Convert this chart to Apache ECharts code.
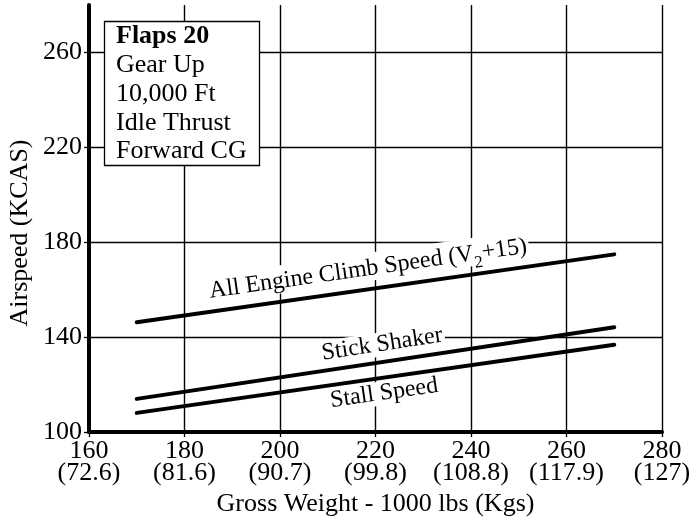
<!DOCTYPE html>
<html>
<head>
<meta charset="utf-8">
<script src="https://cdn.jsdelivr.net/npm/echarts@6/dist/echarts.min.js"></script>
<style>html,body{margin:0;padding:0;background:#fff}#c{width:696px;height:522px}</style>
</head>
<body>
<div id="c"></div>
<script>
// ---- data ----
const weights = [170, 270];
const climbSpeed = [146.3, 174.9];
const stickShaker = [114.0, 144.2];
const stallSpeed = [108.1, 136.8];
const xTickValues = [160, 180, 200, 220, 240, 260, 280];
const xTickKgs = ['72.6', '81.6', '90.7', '99.8', '108.8', '117.9', '127'];
const yTickValues = [100, 140, 180, 220, 260];
const boxLines = ['Flaps 20', 'Gear Up', '10,000 Ft', 'Idle Thrust', 'Forward CG'];
const labelClimb = { x: 218.4, y: 169.6, angle: 8.1 };
const labelShaker = { x: 221.4, y: 137.0, angle: 8.6 };
const labelStall = { x: 221.8, y: 116.4, angle: 8.2 };

const FONT = '"Liberation Serif", "Times New Roman", serif';
const chart = echarts.init(document.getElementById('c'), null, { renderer: 'canvas' });

function pairs(xs, ys) { return xs.map((x, i) => [x, ys[i]]); }
function lineSeries(name, ys, lab, text, rich) {
  return {
    name, type: 'line', data: pairs(weights, ys), symbol: 'none', silent: true,
    lineStyle: { color: '#000', width: 4, cap: 'round' },
    z: 5,
    markPoint: {
      symbol: 'circle', symbolSize: 0, silent: true,
      data: [{ coord: [lab.x, lab.y] }],
      label: {
        show: true, position: 'inside', formatter: text, rotate: lab.angle,
        color: '#000', fontFamily: FONT, fontSize: 24, backgroundColor: '#fff',
        padding: [0, 2, 0, 2], rich: rich
      }
    }
  };
}

const option = {
  animation: false,
  backgroundColor: '#fff',
  grid: { left: 89, right: 34, top: 5, bottom: 89 },
  xAxis: {
    type: 'value', min: 160, max: 280, interval: 10,
    axisLine: { show: true, lineStyle: { color: '#000', width: 4 } },
    axisTick: { show: true, customValues: xTickValues, length: 5, lineStyle: { color: '#000', width: 1.3 } },
    axisLabel: {
      customValues: xTickValues, color: '#000', fontFamily: FONT, fontSize: 26, lineHeight: 22, margin: 8,
      formatter: v => v + '\n(' + xTickKgs[xTickValues.indexOf(v)] + ')'
    },
    splitLine: { show: true, lineStyle: { color: '#000', width: 1.4 } },
    name: 'Gross Weight - 1000 lbs (Kgs)', nameLocation: 'middle', nameGap: 55,
    nameTextStyle: { color: '#000', fontFamily: FONT, fontSize: 26 }
  },
  yAxis: {
    type: 'value', min: 100, max: 280, interval: 20,
    axisLine: { show: true, onZero: false, lineStyle: { color: '#000', width: 4 } },
    axisTick: { show: true, customValues: yTickValues, length: 5, lineStyle: { color: '#000', width: 1.3 } },
    axisLabel: { customValues: yTickValues, color: '#000', fontFamily: FONT, fontSize: 26, margin: 7 },
    splitLine: { show: true, lineStyle: { color: '#000', width: 1.4 } }
  },
  graphic: [
    {
      type: 'text', x: 20, y: 233, rotation: Math.PI / 2,
      style: { text: 'Airspeed (KCAS)', font: '26px ' + FONT, fill: '#000', align: 'center', verticalAlign: 'middle' }
    },
    {
      type: 'rect', shape: { x: 104.5, y: 21.5, width: 155, height: 144 },
      style: { fill: '#fff', stroke: '#000', lineWidth: 1.3 }, z: 100
    },
    {
      type: 'text', x: 116, y: 22, z: 101,
      style: {
        text: '{b|' + boxLines[0] + '}\n' + boxLines.slice(1).map(s => '{n|' + s + '}').join('\n'),
        rich: {
          b: { fontFamily: FONT, fontSize: 26, fontWeight: 'bold', lineHeight: 28.8, fill: '#000' },
          n: { fontFamily: FONT, fontSize: 26, lineHeight: 28.8, fill: '#000' }
        },
        fill: '#000'
      }
    }
  ],
  series: [
    lineSeries('climb', climbSpeed, labelClimb, '{a|All Engine Climb Speed (V}{s|2}{a|+15)}', {
      a: { fontFamily: FONT, fontSize: 24, color: '#000', verticalAlign: 'bottom', lineHeight: 28 },
      s: { fontFamily: FONT, fontSize: 17, color: '#000', verticalAlign: 'bottom', lineHeight: 28, padding: [0, 0, -6, 0] }
    }),
    lineSeries('shaker', stickShaker, labelShaker, 'Stick Shaker'),
    lineSeries('stall', stallSpeed, labelStall, 'Stall Speed')
  ]
};
chart.setOption(option);
</script>
</body>
</html>
